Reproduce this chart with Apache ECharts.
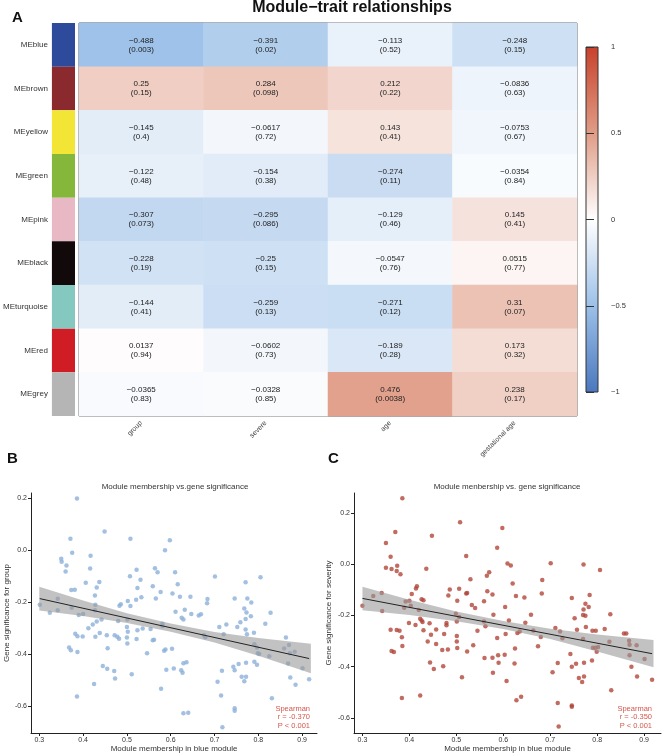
<!DOCTYPE html>
<html>
<head>
<meta charset="utf-8">
<script src="https://cdn.jsdelivr.net/npm/echarts@6/dist/echarts.min.js"></script>
<style>html,body{margin:0;padding:0;background:#fff}#c{width:663px;height:755px}</style>
</head>
<body>
<div id="c"></div>
<script>
// ---------- Heatmap data ----------
const modules = ['MEblue','MEbrown','MEyellow','MEgreen','MEpink','MEblack','MEturquoise','MEred','MEgrey'];
const moduleColors = ['#2E4A9B','#8A2A2F','#F2E535','#85B73B','#E8B9C5','#120A0A','#85C8BF','#D01C25','#B5B5B5'];
const traits = ['group','severe','age','gestational age'];
const corGroup = [-0.488, 0.25, -0.145, -0.122, -0.307, -0.228, -0.144, 0.0137, -0.0365];
const corSevere = [-0.391, 0.284, -0.0617, -0.154, -0.295, -0.25, -0.259, -0.0602, -0.0328];
const corAge = [-0.113, 0.212, 0.143, -0.274, -0.129, -0.0547, -0.271, -0.189, 0.476];
const corGest = [-0.248, -0.0836, -0.0753, -0.0354, 0.145, 0.0515, 0.31, 0.173, 0.238];
const pGroup = ['0.003','0.15','0.4','0.48','0.073','0.19','0.41','0.94','0.83'];
const pSevere = ['0.02','0.098','0.72','0.38','0.086','0.15','0.13','0.73','0.85'];
const pAge = ['0.52','0.22','0.41','0.11','0.46','0.76','0.12','0.28','0.0038'];
const pGest = ['0.15','0.63','0.67','0.84','0.41','0.77','0.07','0.32','0.17'];
const scaleColors = ['#4A78BE','#9CC0E8','#FFFFFF','#E09C86','#C8412B'];
const scaleTicks = [-1, -0.5, 0, 0.5, 1];

// ---------- Scatter data (module membership, gene significance) ----------
const pointsB = [
[0.386,0.200],[0.449,0.073],[0.371,0.045],[0.508,0.045],[0.598,0.039],[0.587,0.000],[0.375,-0.009],[0.417,-0.021],
[0.350,-0.032],[0.351,-0.044],[0.362,-0.058],[0.360,-0.082],[0.416,-0.070],[0.522,-0.075],[0.564,-0.069],[0.570,-0.084],
[0.610,-0.084],[0.507,-0.100],[0.531,-0.113],[0.701,-0.101],[0.805,-0.104],[0.771,-0.123],[0.406,-0.125],[0.437,-0.122],
[0.431,-0.143],[0.559,-0.138],[0.616,-0.131],[0.524,-0.145],[0.373,-0.153],[0.381,-0.152],[0.577,-0.161],[0.604,-0.166],
[0.427,-0.174],[0.621,-0.179],[0.645,-0.179],[0.533,-0.181],[0.521,-0.190],[0.502,-0.195],[0.566,-0.186],[0.684,-0.188],
[0.683,-0.204],[0.746,-0.186],[0.775,-0.186],[0.784,-0.201],[0.342,-0.187],[0.301,-0.210],[0.428,-0.210],[0.486,-0.208],
[0.483,-0.214],
[0.324,-0.241],[0.342,-0.231],[0.374,-0.221],[0.390,-0.249],[0.400,-0.245],[0.412,-0.300],[0.422,-0.286],[0.427,-0.231],
[0.431,-0.274],[0.442,-0.267],[0.438,-0.319],[0.382,-0.321],[0.387,-0.331],[0.399,-0.332],[0.428,-0.333],[0.387,-0.392],
[0.368,-0.374],[0.372,-0.385],[0.454,-0.327],[0.456,-0.377],[0.445,-0.446],[0.455,-0.456],[0.472,-0.327],[0.478,-0.333],
[0.482,-0.341],[0.480,-0.272],[0.471,-0.465],[0.473,-0.494],[0.501,-0.267],[0.500,-0.295],[0.502,-0.314],[0.500,-0.336],
[0.501,-0.359],[0.508,-0.215],[0.511,-0.478],[0.522,-0.342],[0.524,-0.308],[0.536,-0.301],[0.546,-0.397],[0.559,-0.347],
[0.562,-0.345],[0.554,-0.303],[0.581,-0.283],[0.581,-0.292],[0.578,-0.533],[0.588,-0.382],[0.585,-0.387],[0.590,-0.460],
[0.603,-0.379],[0.607,-0.455],[0.611,-0.237],[0.625,-0.260],[0.629,-0.267],[0.632,-0.229],[0.629,-0.435],[0.636,-0.431],
[0.624,-0.462],[0.627,-0.472],[0.629,-0.628],[0.640,-0.626],[0.647,-0.245],[0.664,-0.251],[0.669,-0.246],[0.676,-0.327],
[0.679,-0.335],[0.707,-0.506],[0.711,-0.295],[0.721,-0.323],[0.717,-0.464],[0.715,-0.559],[0.718,-0.682],[0.727,-0.286],
[0.743,-0.449],[0.746,-0.462],[0.746,-0.609],[0.746,-0.618],[0.752,-0.295],[0.755,-0.438],[0.759,-0.277],[0.762,-0.487],
[0.768,-0.505],[0.772,-0.487],[0.771,-0.305],[0.771,-0.265],[0.774,-0.323],[0.772,-0.433],[0.768,-0.224],[0.773,-0.240],
[0.783,-0.254],[0.790,-0.318],[0.791,-0.362],[0.797,-0.374],[0.799,-0.397],[0.802,-0.400],[0.791,-0.429],[0.797,-0.441],
[0.816,-0.283],[0.825,-0.408],[0.828,-0.241],[0.831,-0.570],[0.859,-0.378],[0.863,-0.336],[0.868,-0.436],[0.870,-0.365],
[0.873,-0.490],[0.883,-0.391],[0.885,-0.518],[0.901,-0.454],[0.916,-0.497],[0.872,-0.397],[0.425,-0.515],[0.386,-0.563]
];
const pointsC = [
[0.385,0.258],[0.508,0.165],[0.598,0.142],[0.370,0.127],[0.448,0.112],[0.350,0.084],[0.587,0.065],[0.360,0.030],
[0.521,0.033],[0.609,0.003],[0.616,-0.004],[0.701,0.004],[0.771,0.000],[0.806,-0.022],[0.350,-0.013],[0.362,-0.018],
[0.374,-0.005],[0.373,-0.026],[0.381,-0.039],[0.436,-0.017],[0.570,-0.031],[0.565,-0.044],[0.530,-0.058],[0.620,-0.075],
[0.683,-0.061],[0.416,-0.085],[0.414,-0.094],[0.486,-0.098],[0.506,-0.095],[0.521,-0.114],[0.523,-0.112],[0.566,-0.105],
[0.577,-0.118],[0.405,-0.116],[0.483,-0.122],[0.627,-0.124],[0.645,-0.129],[0.682,-0.114],[0.746,-0.131],[0.784,-0.120],
[0.341,-0.112],[0.323,-0.124],[0.426,-0.136],[0.430,-0.140],[0.400,-0.142],[0.502,-0.142],[0.559,-0.144],[0.300,-0.162],
[0.533,-0.159],[0.540,-0.170],[0.389,-0.169],[0.403,-0.162],[0.604,-0.167],[0.775,-0.154],[0.782,-0.167],[0.771,-0.176],
[0.342,-0.182],[0.420,-0.178],[0.423,-0.212],[0.426,-0.219],[0.428,-0.225],[0.430,-0.257],[0.439,-0.301],[0.443,-0.230],
[0.446,-0.275],[0.444,-0.383],[0.452,-0.409],[0.457,-0.254],[0.457,-0.311],[0.470,-0.335],[0.474,-0.272],[0.472,-0.398],
[0.479,-0.229],[0.479,-0.238],[0.482,-0.333],[0.499,-0.193],[0.501,-0.223],[0.501,-0.280],[0.501,-0.301],[0.502,-0.327],
[0.506,-0.206],[0.512,-0.441],[0.523,-0.340],[0.536,-0.316],[0.545,-0.259],[0.559,-0.223],[0.562,-0.242],[0.560,-0.366],
[0.577,-0.365],[0.578,-0.424],[0.579,-0.197],[0.587,-0.288],[0.589,-0.355],[0.590,-0.384],[0.603,-0.353],[0.605,-0.272],
[0.607,-0.456],[0.612,-0.219],[0.625,-0.329],[0.624,-0.387],[0.628,-0.531],[0.638,-0.517],[0.630,-0.268],[0.635,-0.262],
[0.647,-0.228],[0.659,-0.197],[0.664,-0.258],[0.674,-0.320],[0.680,-0.284],[0.705,-0.422],[0.711,-0.249],[0.716,-0.385],
[0.716,-0.542],[0.718,-0.634],[0.721,-0.262],[0.726,-0.289],[0.743,-0.350],[0.746,-0.400],[0.746,-0.552],[0.746,-0.556],
[0.752,-0.211],[0.755,-0.388],[0.757,-0.255],[0.761,-0.444],[0.768,-0.460],[0.772,-0.438],[0.770,-0.292],[0.772,-0.384],
[0.770,-0.198],[0.775,-0.201],[0.776,-0.245],[0.789,-0.376],[0.791,-0.326],[0.796,-0.326],[0.790,-0.259],[0.797,-0.259],
[0.799,-0.341],[0.802,-0.323],[0.816,-0.253],[0.826,-0.302],[0.828,-0.195],[0.830,-0.492],[0.857,-0.270],[0.862,-0.270],
[0.868,-0.298],[0.869,-0.314],[0.869,-0.355],[0.873,-0.400],[0.884,-0.316],[0.885,-0.438],[0.901,-0.370],[0.917,-0.451],
[0.360,-0.255],[0.373,-0.256],[0.379,-0.259],[0.362,-0.339],[0.367,-0.342],[0.384,-0.285],[0.385,-0.319],[0.384,-0.522],
[0.423,-0.512],[0.399,-0.229],[0.413,-0.237],[0.392,-0.145]
];
// regression fits and 95% confidence bands
const fitB = [[0.301,-0.186],[0.916,-0.417]];
const fitC = [[0.300,-0.133],[0.917,-0.349]];
const bandX = [0.30, 0.40, 0.50, 0.60, 0.70, 0.80, 0.92];
const bandLowerB = [-0.232,-0.253,-0.280,-0.314,-0.355,-0.406,-0.474];
const bandUpperB = [-0.140,-0.193,-0.242,-0.282,-0.315,-0.338,-0.360];
const bandLowerC = [-0.179,-0.198,-0.222,-0.253,-0.292,-0.340,-0.402];
const bandUpperC = [-0.087,-0.138,-0.184,-0.221,-0.252,-0.274,-0.296];
const xTicks = [0.3,0.4,0.5,0.6,0.7,0.8,0.9];
const yTicksB = [-0.6,-0.4,-0.2,0.0,0.2];
const yTicksC = [-0.6,-0.4,-0.2,0.0,0.2];

// ---------- build ----------
const FONT = 'Liberation Sans';
const corCols = [corGroup, corSevere, corAge, corGest];
const pCols = [pGroup, pSevere, pAge, pGest];
const heatData = [];
for (let j = 0; j < traits.length; j++) for (let i = 0; i < modules.length; i++) heatData.push([j, i, corCols[j][i]]);
const minus = v => String(v).replace('-', '\u2212');

function scatterAxes(gi, xmin, xmax, ymin, ymax, yTicks, yName, yGap) {
  const common = {
    gridIndex: gi, type: 'value', splitLine: {show: false},
    axisLine: {show: true, onZero: false, lineStyle: {color: '#222', width: 1}},
    axisTick: {show: true, length: 3, lineStyle: {color: '#222'}},
    nameTextStyle: {fontSize: 8, color: '#333', fontFamily: FONT}
  };
  return {
    x: Object.assign({}, common, {
      min: xmin, max: xmax,
      axisTick: Object.assign({}, common.axisTick, {customValues: xTicks}),
      axisLabel: {customValues: xTicks, fontSize: 7, color: '#333', margin: 4, formatter: v => v.toFixed(1)},
      name: 'Module membership in blue module', nameLocation: 'middle', nameGap: 12
    }),
    y: Object.assign({}, common, {
      min: ymin, max: ymax,
      axisTick: Object.assign({}, common.axisTick, {customValues: yTicks}),
      axisLabel: {customValues: yTicks, fontSize: 7, color: '#333', margin: 4, formatter: v => v.toFixed(1)},
      name: yName, nameLocation: 'middle', nameGap: yGap, nameRotate: 90
    })
  };
}
const axB = scatterAxes(3, 0.281, 0.934, -0.704, 0.221, yTicksB, 'Gene significance for group', 19);
const axC = scatterAxes(4, 0.282, 0.936, -0.659, 0.279, yTicksC, 'Gene significance for severity', 21);

// confidence band as a polygon through the axis scales
function bandSeries(xi, lower, upper) {
  return {
    type: 'custom', xAxisIndex: xi, yAxisIndex: xi, silent: true, z: 3,
    data: [[bandX[0], upper[0]]],
    renderItem: (params, api) => {
      const pts = [];
      bandX.forEach((x, k) => pts.push(api.coord([x, upper[k]])));
      for (let k = bandX.length - 1; k >= 0; k--) pts.push(api.coord([bandX[k], lower[k]]));
      return {type: 'polygon', shape: {points: pts}, style: {fill: '#9A9A9A', opacity: 0.6}};
    }
  };
}

const scaleGradient = {
  type: 'linear', x: 0, y: 0, x2: 0, y2: 1,
  colorStops: scaleColors.slice().reverse().map((c, k) => ({offset: k / (scaleColors.length - 1), color: c}))
};

const option = {
  animation: false,
  textStyle: {fontFamily: FONT},
  visualMap: {show: false, min: -1, max: 1, seriesIndex: 1, dimension: 2, inRange: {color: scaleColors}},
  grid: [
    {left: 48, top: 23, width: 27, height: 393},
    {left: 79, top: 23, width: 498, height: 393, show: true, borderColor: '#555', borderWidth: 1, backgroundColor: 'transparent'},
    {left: 586, top: 47, width: 12, height: 345, show: true, borderColor: '#333', borderWidth: 1, backgroundColor: scaleGradient},
    {left: 31, top: 493, width: 286, height: 240},
    {left: 354, top: 493, width: 307, height: 240}
  ],
  xAxis: [
    {gridIndex: 0, type: 'value', min: 0, max: 1, show: false},
    {gridIndex: 1, type: 'category', data: traits, axisLine: {show: false}, axisTick: {show: false},
     splitLine: {show: false},
     axisLabel: {rotate: 45, interval: 0, fontSize: 7, color: '#444', margin: 6}},
    {gridIndex: 2, type: 'value', min: 0, max: 1, show: false},
    axB.x, axC.x
  ],
  yAxis: [
    {gridIndex: 0, type: 'category', data: modules, inverse: true, axisLine: {show: false}, axisTick: {show: false},
     axisLabel: {fontSize: 8, color: '#333', margin: 4}},
    {gridIndex: 1, type: 'category', data: modules, inverse: true, show: false},
    {gridIndex: 2, type: 'value', min: -1, max: 1, interval: 0.5, position: 'right', splitLine: {show: false},
     axisLine: {show: false}, axisTick: {show: true, length: 8, lineStyle: {color: '#333'}},
     axisLabel: {fontSize: 7.5, color: '#333', margin: 13, formatter: v => minus(v)}},
    axB.y, axC.y
  ],
  series: [
    {type: 'bar', xAxisIndex: 0, yAxisIndex: 0, barCategoryGap: '0%', barWidth: '100%',
     data: modules.map((m, i) => ({value: 1, itemStyle: {color: moduleColors[i]}})), silent: true},
    {type: 'heatmap', xAxisIndex: 1, yAxisIndex: 1, data: heatData,
     label: {show: true, fontSize: 8, color: '#222', lineHeight: 9,
       formatter: p => minus(p.data[2]) + '\n(' + pCols[p.data[0]][p.data[1]] + ')'}},
    {type: 'scatter', xAxisIndex: 3, yAxisIndex: 3, data: pointsB, symbolSize: 4.5,
     itemStyle: {color: '#8CB0DA'}, z: 2},
    bandSeries(3, bandLowerB, bandUpperB),
    {type: 'line', xAxisIndex: 3, yAxisIndex: 3, data: fitB, symbol: 'none', lineStyle: {color: '#222', width: 1}, z: 4},
    {type: 'scatter', xAxisIndex: 4, yAxisIndex: 4, data: pointsC, symbolSize: 4.5,
     itemStyle: {color: '#B2463A'}, z: 2},
    bandSeries(4, bandLowerC, bandUpperC),
    {type: 'line', xAxisIndex: 4, yAxisIndex: 4, data: fitC, symbol: 'none', lineStyle: {color: '#222', width: 1}, z: 4}
  ],
  graphic: [
    {type: 'text', style: {text: 'Module\u2212trait relationships', x: 352, y: 8, textAlign: 'center', textVerticalAlign: 'middle',
      font: 'bold 16px "Liberation Sans"', fill: '#111'}},
    {type: 'text', style: {text: 'A', x: 12, y: 18, textVerticalAlign: 'middle', font: 'bold 15px "Liberation Sans"', fill: '#111'}},
    {type: 'text', style: {text: 'B', x: 7, y: 459, textVerticalAlign: 'middle', font: 'bold 15px "Liberation Sans"', fill: '#111'}},
    {type: 'text', style: {text: 'C', x: 328, y: 459, textVerticalAlign: 'middle', font: 'bold 15px "Liberation Sans"', fill: '#111'}},
    {type: 'text', style: {text: 'Module membership vs.gene significance', x: 175, y: 487, textAlign: 'center', textVerticalAlign: 'middle',
      font: '8px "Liberation Sans"', fill: '#333'}},
    {type: 'text', style: {text: 'Module menbership vs. gene significance', x: 507, y: 487, textAlign: 'center', textVerticalAlign: 'middle',
      font: '8px "Liberation Sans"', fill: '#333'}},
    {type: 'text', style: {text: 'Spearman\nr = -0.370\nP < 0.001', x: 310, y: 717, textAlign: 'right', textVerticalAlign: 'middle',
      font: '7.5px "Liberation Sans"', fill: '#D6574C', lineHeight: 8.5}},
    {type: 'text', style: {text: 'Spearman\nr = -0.350\nP < 0.001', x: 652, y: 717, textAlign: 'right', textVerticalAlign: 'middle',
      font: '7.5px "Liberation Sans"', fill: '#D6574C', lineHeight: 8.5}}
  ]
};
const chart = echarts.init(document.getElementById('c'), null, {renderer: 'canvas'});
chart.setOption(option);
</script>
</body>
</html>
